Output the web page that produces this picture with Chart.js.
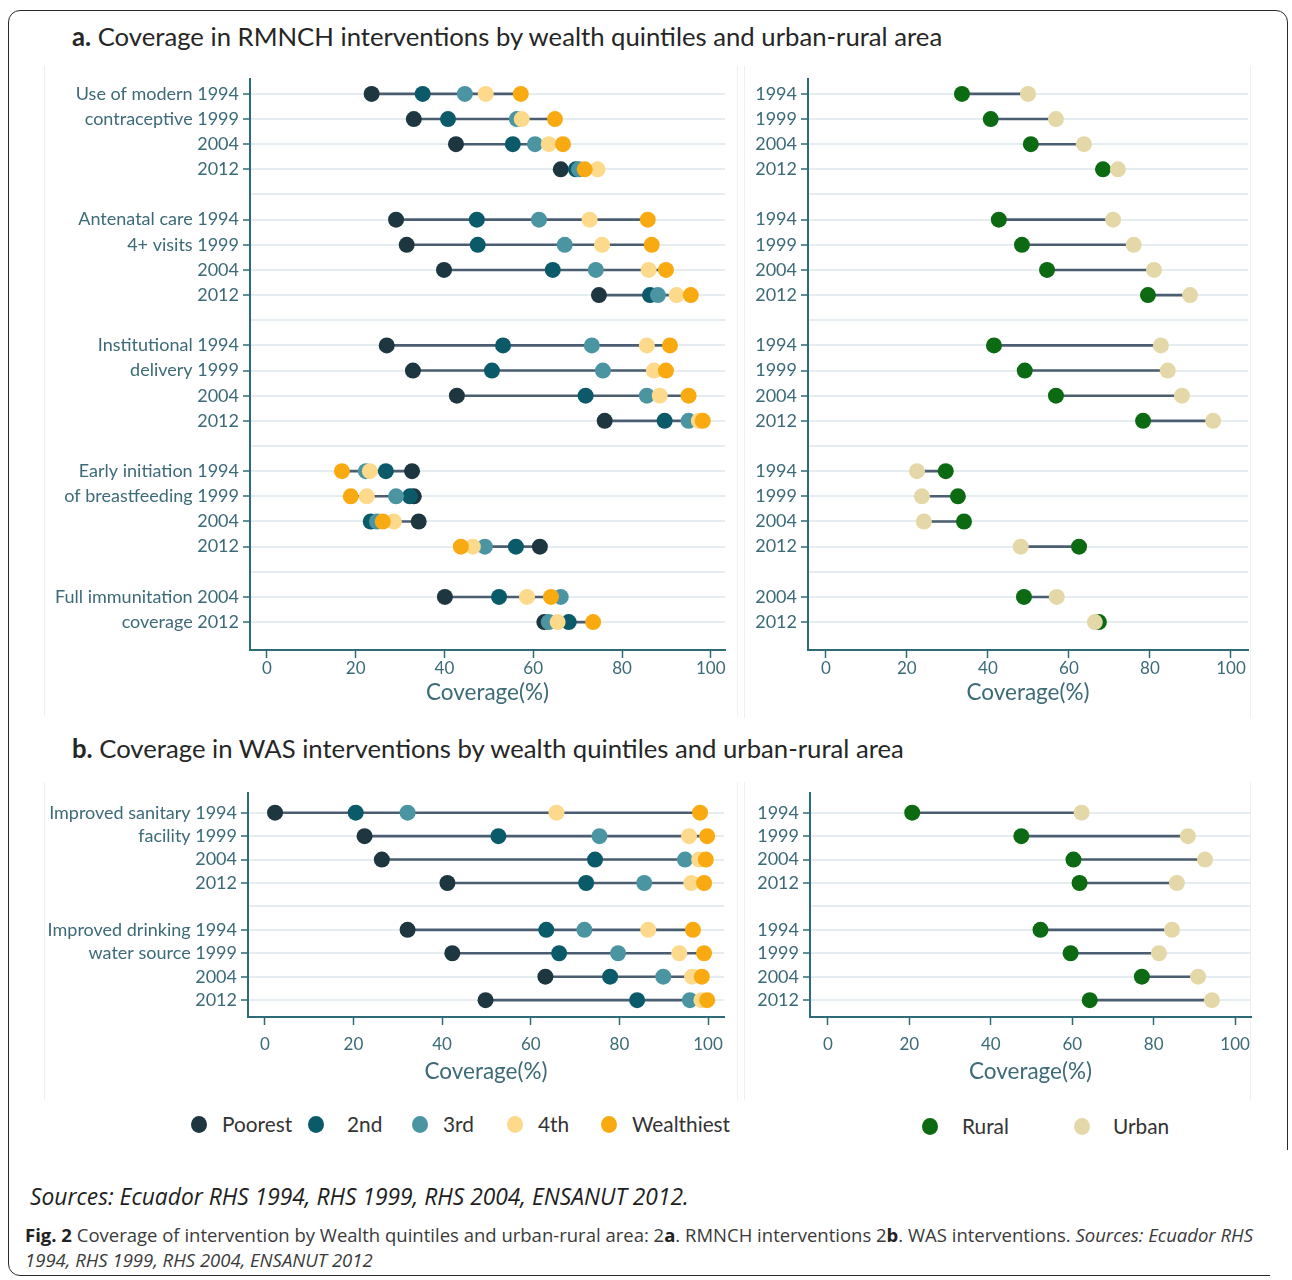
<!DOCTYPE html>
<html>
<head>
<meta charset="utf-8">
<script src="https://cdn.jsdelivr.net/npm/chart.js@4.4.1/dist/chart.umd.min.js"></script>
<style>
  html, body { margin: 0; padding: 0; background: #fff; }
  body { width: 1292px; height: 1280px; position: relative; overflow: hidden; font-family: Lato, "Liberation Sans", sans-serif; }
  .frame { position: absolute; left: 8px; top: 10px; width: 1278px; height: 1264px; border: 1.5px solid #2a2a2a; border-radius: 12px; }
  .cut { position: absolute; left: 1270px; top: 1150px; width: 30px; height: 140px; background: #fff; }
  .panel { position: absolute; border-left: 1px solid #efefef; border-right: 1px solid #efefef; }
  canvas { position: absolute; }
  .title { position: absolute; left: 72px; font-size: 25.7px; color: #262626; white-space: nowrap; }
  .title b { font-weight: 700; }
  .legend { position: absolute; font-size: 20.8px; color: #333; white-space: nowrap; }
  .dot { position: absolute; width: 16px; height: 17px; border-radius: 50%; }
  .lab { position: absolute; line-height: 24px; }
  .src { position: absolute; left: 30px; top: 1181px; font-family: "Open Sans", sans-serif; font-style: italic; font-size: 22.8px; color: #1e1e1e; white-space: nowrap; }
  .cap { position: absolute; left: 25px; font-family: "Open Sans", sans-serif; font-size: 18.5px; color: #3a3a3a; white-space: nowrap; }
  .cap b { color: #222; }
</style>
</head>
<body>
<div class="frame"></div>
<div class="cut"></div>

<div class="panel" style="left:44px;top:66px;width:692px;height:650px;"></div>
<div class="panel" style="left:744px;top:66px;width:505px;height:652px;"></div>
<div class="panel" style="left:44px;top:782px;width:692px;height:318px;"></div>
<div class="panel" style="left:744px;top:782px;width:505px;height:318px;"></div>

<div class="title" style="top:21px;"><b>a.</b> Coverage in RMNCH interventions by wealth quintiles and urban-rural area</div>
<div class="title" style="top:733px;"><b>b.</b> Coverage in WAS interventions by wealth quintiles and urban-rural area</div>

<canvas id="rmnchWealth" width="690" height="648" style="left:45px;top:64px;"></canvas>
<canvas id="rmnchArea" width="520" height="648" style="left:740px;top:64px;"></canvas>
<canvas id="wasWealth" width="690" height="313" style="left:45px;top:778px;"></canvas>
<canvas id="wasArea" width="520" height="313" style="left:740px;top:778px;"></canvas>

<div class="legend" id="legendWealth"></div>
<div class="legend" id="legendArea"></div>

<div class="src">Sources: Ecuador RHS 1994, RHS 1999, RHS 2004, ENSANUT 2012.</div>
<div class="cap" style="top:1222px;"><b>Fig. 2</b> Coverage of intervention by Wealth quintiles and urban-rural area: 2<b>a</b>. RMNCH interventions 2<b>b</b>. WAS interventions. <i>Sources: Ecuador RHS</i></div>
<div class="cap" style="top:1247px;"><i>1994, RHS 1999, RHS 2004, ENSANUT 2012</i></div>

<script>
// ---- Row labels (top to bottom); empty strings are spacer rows between indicators ----
const rmnchRows = [
  'Use of modern 1994', 'contraceptive 1999', '2004', '2012', '',
  'Antenatal care 1994', '4+ visits 1999', '2004', '2012', '',
  'Institutional 1994', 'delivery 1999', '2004', '2012', '',
  'Early initiation 1994', 'of breastfeeding 1999', '2004', '2012', '',
  'Full immunitation 2004', 'coverage 2012'
];
const rmnchYearRows = [
  '1994', '1999', '2004', '2012', '',
  '1994', '1999', '2004', '2012', '',
  '1994', '1999', '2004', '2012', '',
  '1994', '1999', '2004', '2012', '',
  '2004', '2012'
];
const wasRows = [
  'Improved sanitary 1994', 'facility 1999', '2004', '2012', '',
  'Improved drinking 1994', 'water source 1999', '2004', '2012'
];
const wasYearRows = ['1994', '1999', '2004', '2012', '', '1994', '1999', '2004', '2012'];

const xTickValues = [0, 20, 40, 60, 80, 100];

// ---- RMNCH coverage (%) by wealth quintile ----
const rmnchPoorest    = [23.6, 33.1, 42.6, 66.2, null, 29.1, 31.5, 39.9, 74.8, null, 27.0, 32.9, 42.8, 76.1, null, 32.7, 33.1, 34.2, 61.5, null, 40.1, 62.5];
const rmnch2nd        = [35.1, 40.8, 55.4, 69.6, null, 47.3, 47.5, 64.4, 86.3, null, 53.2, 50.7, 71.8, 89.6, null, 26.8, 32.2, 23.4, 56.1, null, 52.3, 68.0];
const rmnch3rd        = [44.6, 56.3, 60.4, 70.3, null, 61.3, 67.1, 74.1, 88.1, null, 73.2, 75.7, 85.6, 95.0, null, 22.3, 29.1, 24.8, 49.1, null, 66.2, 63.5];
const rmnch4th        = [49.3, 57.4, 63.5, 74.5, null, 72.7, 75.5, 86.0, 92.3, null, 85.6, 87.2, 88.5, 97.3, null, 23.2, 22.5, 28.6, 46.4, null, 58.6, 65.5];
const rmnchWealthiest = [57.2, 64.9, 66.7, 71.6, null, 85.8, 86.7, 89.9, 95.5, null, 90.8, 89.9, 95.0, 98.2, null, 16.9, 18.9, 26.1, 43.7, null, 64.0, 73.5];

// ---- RMNCH coverage (%) by area ----
const rmnchRural = [33.6, 40.7, 50.6, 68.4, null, 42.7, 48.4, 54.6, 79.5, null, 41.5, 49.1, 56.8, 78.3, null, 29.6, 32.6, 34.1, 62.5, null, 48.9, 67.4];
const rmnchUrban = [49.9, 56.8, 63.7, 72.1, null, 70.9, 76.0, 81.0, 89.9, null, 82.7, 84.4, 87.9, 95.6, null, 22.5, 23.7, 24.2, 48.1, null, 57.0, 66.4];

// ---- WAS coverage (%) by wealth quintile ----
const wasPoorest    = [2.3, 22.5, 26.4, 41.2, null, 32.2, 42.3, 63.3, 49.8];
const was2nd        = [20.5, 52.7, 74.5, 72.5, null, 63.5, 66.4, 77.9, 84.0];
const was3rd        = [32.2, 75.5, 94.8, 85.6, null, 72.1, 79.7, 89.9, 95.9];
const was4th        = [65.8, 95.7, 98.0, 96.2, null, 86.5, 93.5, 96.4, 98.5];
const wasWealthiest = [98.2, 99.8, 99.5, 99.1, null, 96.6, 99.1, 98.6, 99.8];

// ---- WAS coverage (%) by area ----
const wasRural = [20.7, 47.5, 60.3, 61.8, null, 52.2, 59.6, 77.1, 64.3];
const wasUrban = [62.3, 88.4, 92.6, 85.7, null, 84.5, 81.3, 90.9, 94.3];

const quintileNames = ['Poorest', '2nd', '3rd', '4th', 'Wealthiest'];
const quintileColors = ['#1d3640', '#0b5a69', '#4b95a2', '#fdd98b', '#f8aa10'];
const areaNames = ['Rural', 'Urban'];
const areaColors = ['#0b6a12', '#e4d8a8'];

// ---- styling ----
const axisTeal = '#2e6b77';
const textTeal = '#3c6a77';
const gridTint = '#e6edf0';
const linkColor = '#4b5d71';
const FONT = 'Lato';

function dumbbell(canvasId, rows, names, colors, valueSets, o) {
  const idx = rows.map((_, i) => i);
  const datasets = [];

  // one thin segment per row from lowest to highest group value
  idx.forEach(i => {
    const vals = valueSets.map(v => v[i]).filter(v => v !== null);
    if (!vals.length) return;
    datasets.push({
      type: 'line',
      data: [{ x: Math.min(...vals), y: i }, { x: Math.max(...vals), y: i }],
      borderColor: linkColor,
      borderWidth: 2.6,
      pointRadius: 0,
      order: 100
    });
  });

  // dots, first group drawn first so later groups sit on top
  valueSets.forEach((vals, k) => {
    datasets.push({
      type: 'scatter',
      label: names[k],
      data: idx.filter(i => vals[i] !== null).map(i => ({ x: vals[i], y: i })),
      backgroundColor: colors[k],
      borderColor: colors[k],
      borderWidth: 0,
      pointRadius: o.r,
      pointHoverRadius: o.r,
      order: 50 - k
    });
  });

  new Chart(document.getElementById(canvasId), {
    type: 'scatter',
    data: { datasets },
    options: {
      responsive: false,
      animation: false,
      devicePixelRatio: 1,
      layout: { padding: { left: 0, top: 10, right: o.padRight, bottom: 0 } },
      plugins: { legend: { display: false }, tooltip: { enabled: false } },
      scales: {
        x: {
          type: 'linear',
          min: o.xMin,
          max: o.xMax,
          afterBuildTicks: sc => { sc.ticks = xTickValues.map(v => ({ value: v })); },
          afterFit: sc => { sc.height = o.xHeight; },
          ticks: { color: textTeal, font: { family: FONT, size: 17 }, padding: o.xTickPad, maxRotation: 0 },
          grid: { drawOnChartArea: false, drawTicks: true, tickLength: 8, tickColor: axisTeal, tickWidth: 1.5 },
          border: { color: axisTeal, width: 2 },
          title: { display: true, text: 'Coverage(%)', color: textTeal, font: { family: FONT, size: 22.5 }, padding: { top: 2, bottom: 6 } }
        },
        y: {
          type: 'linear',
          reverse: true,
          min: o.yMin,
          max: o.yMax,
          afterBuildTicks: sc => { sc.ticks = idx.map(v => ({ value: v })); },
          afterFit: sc => { sc.width = o.yWidth; },
          ticks: {
            autoSkip: false,
            padding: 4,
            color: textTeal,
            font: { family: FONT, size: 18 },
            callback: v => rows[Math.round(v)]
          },
          grid: {
            color: gridTint,
            lineWidth: 2,
            tickLength: 7,
            tickWidth: 1.5,
            tickColor: ctx => (rows[ctx.index] ? axisTeal : 'rgba(0,0,0,0)')
          },
          border: { color: axisTeal, width: 2 }
        }
      }
    }
  });
}

dumbbell('rmnchWealth', rmnchRows, quintileNames, quintileColors,
  [rmnchPoorest, rmnch2nd, rmnch3rd, rmnch4th, rmnchWealthiest],
  { xMin: -3.8, xMax: 103.2, yMin: -0.6, yMax: 22.11, yWidth: 205, padRight: 10, r: 8, xHeight: 62, xTickPad: 0 });

dumbbell('rmnchArea', rmnchYearRows, areaNames, areaColors,
  [rmnchRural, rmnchUrban],
  { xMin: -4.4, xMax: 104.2, yMin: -0.6, yMax: 22.11, yWidth: 68, padRight: 12, r: 8, xHeight: 62, xTickPad: 0 });

dumbbell('wasWealth', wasRows, quintileNames, quintileColors,
  [wasPoorest, was2nd, was3rd, was4th, wasWealthiest],
  { xMin: -3.8, xMax: 103.6, yMin: -0.85, yMax: 8.72, yWidth: 203, padRight: 11, r: 8, xHeight: 74, xTickPad: 9 });

dumbbell('wasArea', wasYearRows, areaNames, areaColors,
  [wasRural, wasUrban],
  { xMin: -4.4, xMax: 103.9, yMin: -0.85, yMax: 8.72, yWidth: 70, padRight: 9, r: 8, xHeight: 74, xTickPad: 9 });

// ---- legends below the bottom panels ----
function buildLegend(id, names, colors, dotX, textX, cy) {
  const host = document.getElementById(id);
  names.forEach((n, k) => {
    const d = document.createElement('div');
    d.className = 'dot';
    d.style.left = (dotX[k] - 8) + 'px';
    d.style.top = (cy - 8.5) + 'px';
    d.style.background = colors[k];
    host.appendChild(d);
    const t = document.createElement('div');
    t.className = 'lab';
    t.textContent = n;
    t.style.left = textX[k] + 'px';
    t.style.top = (cy - 12) + 'px';
    host.appendChild(t);
  });
}
buildLegend('legendWealth', quintileNames, quintileColors, [199, 316, 420, 515, 609], [222, 347, 443, 538, 632], 1124);
buildLegend('legendArea', areaNames, areaColors, [930, 1082], [962, 1113], 1126);
</script>
</body>
</html>
